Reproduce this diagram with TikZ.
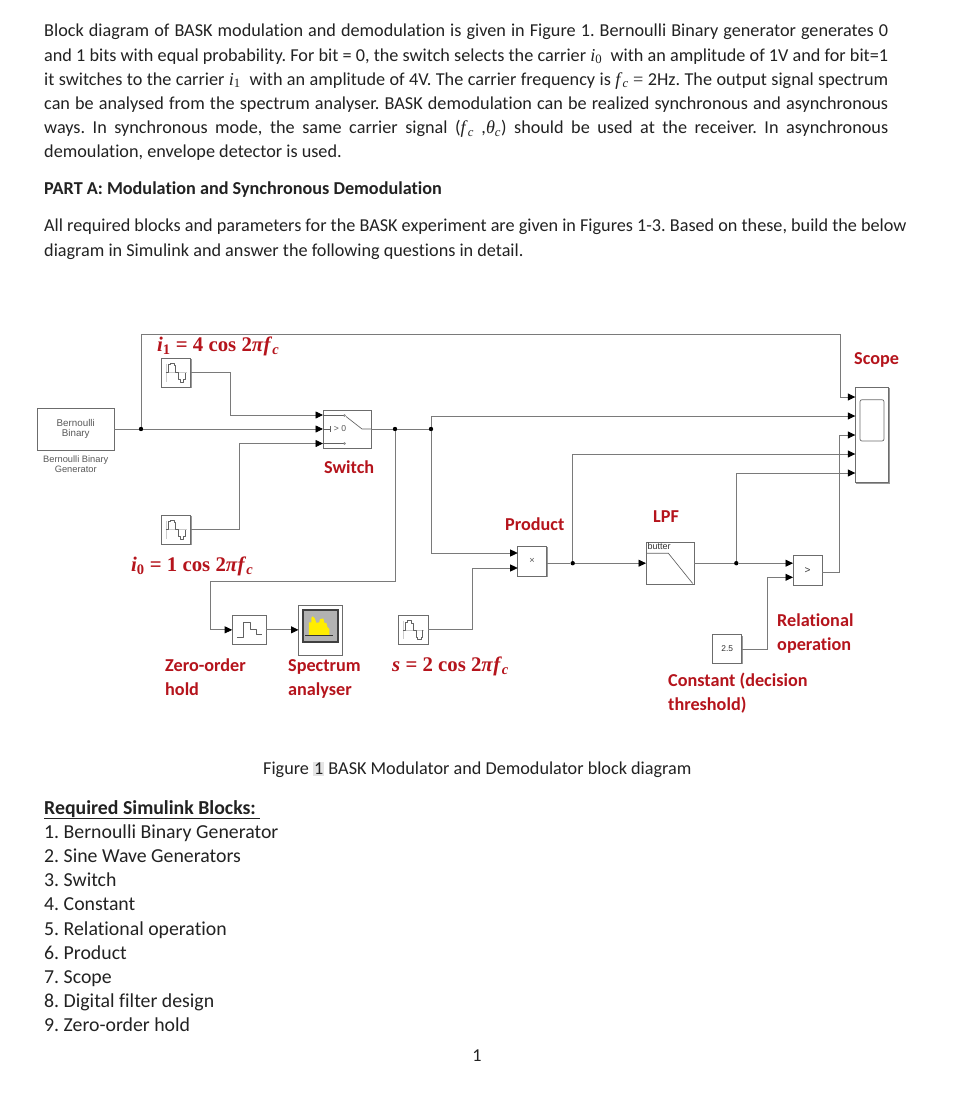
\documentclass[tikz,border=0pt]{standalone}
\usepackage{fontspec}
\setmainfont{Carlito}[Ligatures=CommonOff]
\newfontfamily\eqfont{Liberation Serif}
\newfontfamily\blockfont{Liberation Sans}
\usetikzlibrary{positioning,calc,arrows.meta,shadows}
\definecolor{labelred}{HTML}{B5141C}
\definecolor{wiregray}{HTML}{7A7A7A}
\definecolor{bodyink}{HTML}{222222}
\newcommand{\eqsym}[2]{{\eqfont\textit{#1}\textsubscript{#2}}}
\newcommand{\eqbold}[2]{{\eqfont\bfseries\textit{#1}\textsubscript{#2}}}
\frenchspacing
\begin{document}
\begin{tikzpicture}[x=1pt, y=-1pt,
    wire/.style={draw=wiregray, line width=.8pt},
    arrow/.style={wire, -{Triangle[black,length=7.5pt,width=7pt]}},
    dot/.style={circle, fill=black, inner sep=0pt, minimum size=4.4pt},
    block/.style={draw=gray!85!black, line width=.7pt, fill=white, inner sep=0pt, outer sep=0pt,
        drop shadow={shadow xshift=1pt, shadow yshift=-1pt, fill=gray, opacity=.8}},
    sineblock/.style={block, minimum width=29.5pt, minimum height=29pt},
    blocktext/.style={font=\blockfont\fontsize{9.3}{10.5}\selectfont, text=black!65, align=center},
    redlabel/.style={font=\bfseries\fontsize{18.2}{24}\selectfont, text=labelred, align=left, anchor=west, inner sep=0pt},
    eqlabel/.style={font=\eqfont\bfseries\fontsize{20.8}{24}\selectfont, text=labelred, anchor=west, inner sep=0pt},
    bodytext/.style={font=\fontsize{18.2}{24.2}\selectfont, text=bodyink, anchor=north west, inner sep=0pt},
    icon/.style={draw=black!62, line width=.65pt, line join=round},
    sinewave/.pic={
        \draw[gray!40, line width=.4pt] (-10,-9) -- (-10,9) (-10,0) -- (11,0);
        \draw[icon] (-10,0) -- (-7.5,0) -- (-7.5,-8) -- (-5.5,-8) -- (-5.5,-9.5) -- (-1.5,-9.5) -- (-1.5,-7) -- (0,-7) -- (0,0)
            -- (3,0) -- (3,7) -- (4.5,7) -- (4.5,9.5) -- (8,9.5) -- (8,7) -- (9.5,7) -- (9.5,0);
    }]
    \useasboundingbox (0,0) rectangle (957,1105);
    \fill[white] (0,0) rectangle (957,1105);

    % Page text
    \node[bodytext, text width=844pt, align=justify] (intro) at (44,24) {Block diagram of BASK modulation and demodulation is given in Figure 1. Bernoulli Binary generator generates 0\linebreak
        and 1 bits with equal probability. For bit = 0, the switch selects the carrier \eqsym{i}{0}\ \ with an amplitude of 1V and for bit=1\linebreak
        it switches to the carrier \eqsym{i}{1}\ \ with an amplitude of 4V. The carrier frequency is \eqsym{f}{\textit{c}} {\eqfont =} 2Hz. The output signal spectrum\linebreak
        can be analysed from the spectrum analyser. BASK demodulation can be realized synchronous and asynchronous\linebreak
        ways. In synchronous mode, the same carrier signal ({\eqsym{f}{\textit{c}}} ,\eqsym{θ}{\textit{c}}) should be used at the receiver. In asynchronous\linebreak
        demoulation, envelope detector is used.};
    \node[bodytext, font=\bfseries\fontsize{18.2}{24.2}\selectfont, anchor=west] (parta) at (44,189.5) {PART A: Modulation and Synchronous Demodulation};
    \node[bodytext, align=left] (allreq) at (44,219) {All required blocks and parameters for the BASK experiment are given in Figures 1-3. Based on these, build the below\\
        diagram in Simulink and answer the following questions in detail.};

    % Blocks
    \node[block, minimum width=76.5pt, minimum height=42pt] (bern) at (75.75,429) {};
    \node[block, minimum width=48pt, minimum height=38pt, right=209pt of bern] (switch) {};
    \node[sineblock, above right=21pt and 47pt of bern] (sineone) {};
    \node[sineblock, below right=65pt and 47pt of bern] (sinezero) {};
    \node[block, minimum width=34pt, minimum height=28.3pt, below right=71.7pt and 41.7pt of sinezero] (zoh) {};
    \node[block, minimum width=43.7pt, minimum height=50pt, right=32.3pt of zoh] (spectrum) {};
    \node[sineblock, minimum height=28.3pt, right=56.3pt of spectrum] (sines) {};
    \node[block, minimum width=29pt, minimum height=30pt, above right=39.7pt and 89.7pt of sines] (product) {};
    \node[block, minimum width=48pt, minimum height=42.3pt, right=99.3pt of product, yshift=-2.2pt] (lpf) {};
    \node[block, minimum width=29.3pt, minimum height=29.6pt, right=99pt of lpf, yshift=-7.3pt] (compare) {};
    \node[block, minimum width=29pt, minimum height=28.6pt, below left=49.4pt and 51.3pt of compare] (const) {};
    \node[block, minimum width=33.4pt, minimum height=95.4pt, above right=73pt and 33pt of compare] (scope) {};

    % Block insides
    \node[blocktext, font=\blockfont\fontsize{9.8}{10.5}\selectfont] (berntext) at (bern) {Bernoulli\\Binary};
    \node[blocktext, below=2pt of bern] (bernname) {Bernoulli Binary\\Generator};
    \pic at (sineone) {sinewave};
    \pic at (sinezero) {sinewave};
    \pic at (sines) {sinewave};
    \draw[icon] ($(zoh)+(-12.3,7.7)$) -- ++(6,0) -- ++(0,-15.7) -- ++(7.3,0) -- ++(0,7.3) -- ++(6,0) -- ++(0,5) -- ++(5.7,0);
    \node[draw=black!75, line width=1.3pt, fill=gray!60, minimum width=35pt, minimum height=32pt, inner sep=0pt] (screen) at ([yshift=4pt]spectrum.center) {};
    \fill[yellow!95!orange] ($(screen)+(-11.5,9.7)$) -- ++(0,-13.2) -- ++(2.5,0) -- ++(0,-4.5) -- ++(1.5,-1.5) -- ++(2,2) -- ++(1.5,4.5) -- ++(3,-.5) -- ++(.5,-3) -- ++(3.5,-1) -- ++(1,4.5) -- ++(2,0) -- ++(1,4) -- ++(2,2) -- ++(0,6.7) -- cycle;
    \draw[black!80, line width=.6pt] ($(screen)+(-15,9.7)$) -- ++(28,0);
    \draw[icon] ($(switch.west)+(0,-13.5)$) -- ++(20.5,0) ($(switch.west)+(0,14.5)$) -- ++(20.5,0);
    \draw[icon, fill=white] ($(switch.west)+(21.5,-13.5)$) circle (1pt) ($(switch.west)+(21.5,14.5)$) circle (1pt);
    \draw[icon] ($(switch.west)+(0,0)$) -- ++(8,0) ($(switch.west)+(7.5,-3)$) -- ++(0,6);
    \draw[icon] ($(switch.west)+(23,-12.5)$) -- ($(switch.east)+(-9,0)$) -- (switch.east);
    \node[blocktext, inner sep=0pt, font=\blockfont\fontsize{8.6}{10}\selectfont] (swtext) at ($(switch.west)+(17,0)$) {> 0};
    \node[blocktext, inner sep=0pt] (prodtext) at (product) {×};
    \node[blocktext, inner sep=0pt, text=black!80, font=\blockfont\fontsize{10}{10}\selectfont] (comptext) at (compare) {>};
    \node[blocktext, inner sep=0pt, text=black!80, font=\blockfont\fontsize{8.4}{10}\selectfont] (consttext) at (const) {2.5};
    \node[blocktext, anchor=north west, inner sep=0pt, font=\blockfont\fontsize{9}{9}\selectfont, text=black!80] (lpftext) at ([shift={(1.5,1)}]lpf.north west) {butter};
    \draw[icon] ($(lpf)+(-23,-10)$) -- ++(21.3,0) -- ++(24.4,30.3);
    \draw[gray!85!black, line width=.7pt, fill=white, rounded corners=2pt] ($(scope.center)+(-12,-35.3)$) rectangle ($(scope.center)+(12,6)$);

    % Ports
    \coordinate (swa) at ([yshift=14pt]switch.west);
    \coordinate (swb) at ([yshift=-14.5pt]switch.west);
    \coordinate (proda) at ([yshift=8pt]product.west);
    \coordinate (prodb) at ([yshift=-7pt]product.west);
    \coordinate (prodout) at ([yshift=-2.2pt]product.east);
    \coordinate (compa) at ([yshift=7.3pt]compare.west);
    \coordinate (compb) at ([yshift=-6.8pt]compare.west);
    \coordinate (compout) at ([yshift=-1.8pt]compare.east);
    \coordinate (scopea) at ([yshift=38pt]scope.west);
    \coordinate (scopeb) at ([yshift=19pt]scope.west);
    \coordinate (scopec) at (scope.west);
    \coordinate (scoped) at ([yshift=-19pt]scope.west);
    \coordinate (scopee) at ([yshift=-38pt]scope.west);
    \coordinate (topright) at ($(scopea)+(-15.3,-62.5)$);
    \coordinate (zohturn) at ($(zoh.west)+(-22,-48.85)$);

    % Branch points
    \node[dot] (jbern) at ($(bern.east)+(27,0)$) {};
    \node[dot] (jsw) at ($(switch.east)+(24,0)$) {};
    \node[dot] (jsig) at ($(jsw)+(36,0)$) {};
    \node[dot] (jprod) at ($(prodout)+(26,0)$) {};
    \node[dot] (jlpf) at ($(lpf.east)+(42.3,0)$) {};

    % Connections
    \draw[wire] (bern.east) -- (jbern);
    \draw[arrow] (jbern) -- (switch.west);
    \draw[arrow] (jbern) |- (topright) |- (scopea);
    \draw[arrow] (sineone.east) -- ++(40,0) |- (swa);
    \draw[arrow] (sinezero.east) -- ++(49,0) |- (swb);
    \draw[wire] (switch.east) -- (jsw) -- (jsig);
    \draw[arrow] (jsw) |- (zohturn) |- (zoh.west);
    \draw[arrow] (zoh.east) -- (spectrum.west);
    \draw[arrow] (jsig) |- (scopeb);
    \draw[arrow] (jsig) |- (proda);
    \draw[arrow] (sines.east) -- ++(44.7,0) |- (prodb);
    \draw[wire] (prodout) -- (jprod);
    \draw[arrow] (jprod) -- (lpf.west);
    \draw[arrow] (jprod) |- (scoped);
    \draw[wire] (lpf.east) -- (jlpf);
    \draw[arrow] (jlpf) -- (compa);
    \draw[arrow] (jlpf) |- (scopee);
    \draw[arrow] (compout) -- ++(16.7,0) |- (scopec);
    \draw[arrow] (const.east) -- ++(26,0) |- (compb);

    % Red labels
    \node[eqlabel] (labone) at (157,346) {\eqbold{i}{1} = 4 cos 2\textit{π}\eqbold{f}{\textit{c}}};
    \node[eqlabel] (labzero) at (131,566) {\eqbold{i}{0} = 1 cos 2\textit{π}\eqbold{f}{\textit{c}}};
    \node[eqlabel] (labs) at (392,666) {\textit{s} = 2 cos 2\textit{π}\eqbold{f}{\textit{c}}};
    \node[redlabel] (labscope) at (854,359.5) {Scope};
    \node[redlabel] (labswitch) at (324,467) {Switch};
    \node[redlabel] (labprod) at (505,524) {Product};
    \node[redlabel] (lablpf) at (653,517) {LPF};
    \node[redlabel] (labzoh) at (165,677) {Zero-order\\hold};
    \node[redlabel] (labspec) at (288,679) {Spectrum\\analyser};
    \node[redlabel] (labrel) at (777,634) {Relational\\operation};
    \node[redlabel] (labconst) at (668,693) {Constant (decision\\threshold)};

    % Caption and list
    \node[bodytext, anchor=west] (caption) at (263,770) {Figure {\setlength{\fboxsep}{1pt}\colorbox{gray!20}{1}} BASK Modulator and Demodulator block diagram};
    \node[bodytext, font=\fontsize{19.8}{24.2}\selectfont, anchor=north west, align=left] (blocklist) at (44,800) {\underline{\textbf{Required Simulink Blocks:\ }}\\
        1. Bernoulli Binary Generator\\
        2. Sine Wave Generators\\
        3. Switch\\
        4. Constant\\
        5. Relational operation\\
        6. Product\\
        7. Scope\\
        8. Digital filter design\\
        9. Zero-order hold};
    \node[bodytext, anchor=center] (pagenum) at (477,1056) {1};
\end{tikzpicture}
\end{document}
